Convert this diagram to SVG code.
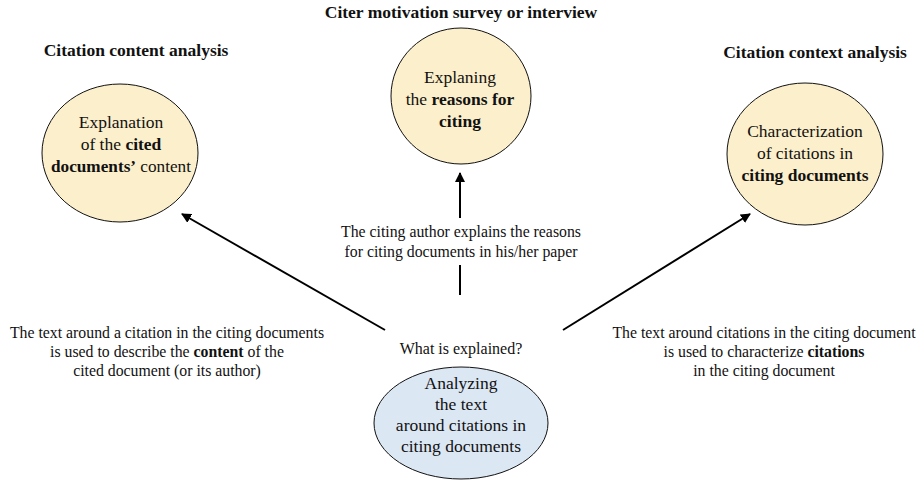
<svg xmlns="http://www.w3.org/2000/svg" width="924" height="482" viewBox="0 0 924 482">
<style>
text{font-family:"Liberation Serif","Times New Roman",serif;fill:#111;text-anchor:middle}
.title{font-size:17.5px;font-weight:bold}
.node{font-size:17.5px}
.lbl{font-size:15.8px}
.q{font-size:16px}
.y{fill:#FCEFCB;stroke:#111;stroke-width:1}
.b{fill:#DCE7F4;stroke:#111;stroke-width:1}
.c{stroke:#000;stroke-width:2;fill:none}
.bd{font-weight:bold}
</style>
<defs>
<marker id="ah" viewBox="0 0 10 10" refX="9" refY="5" markerWidth="5" markerHeight="5" orient="auto" markerUnits="strokeWidth">
<path d="M0,0 L10,5 L0,10 z" fill="#000"/>
</marker>
</defs>
<rect width="924" height="482" fill="#fff"/>
<g id="titles">
<text class="title" x="461" y="18">Citer motivation survey or interview</text>
<text class="title" x="136" y="56">Citation content analysis</text>
<text class="title" x="815" y="58">Citation context analysis</text>
</g>
<g id="connectors">
<line class="c" x1="385" y1="330" x2="182" y2="214" marker-end="url(#ah)"/>
<line class="c" x1="563" y1="330" x2="750" y2="214" marker-end="url(#ah)"/>
<line class="c" x1="460" y1="218" x2="460" y2="173" marker-end="url(#ah)"/>
<line class="c" x1="460" y1="265" x2="460" y2="295"/>
</g>
<g id="node-content">
<ellipse class="y" cx="120" cy="153" rx="78" ry="69"/>
<text class="node" x="121" y="128">Explanation</text>
<text class="node" x="121" y="150">of the <tspan class="bd">cited</tspan></text>
<text class="node" x="121" y="172" textLength="140" lengthAdjust="spacingAndGlyphs"><tspan class="bd">documents’</tspan> content</text>
</g>
<g id="node-reasons">
<ellipse class="y" cx="461" cy="96" rx="70" ry="68"/>
<text class="node" x="460" y="83">Explaning</text>
<text class="node" x="460" y="105">the <tspan class="bd">reasons for</tspan></text>
<text class="node bd" x="460" y="127">citing</text>
</g>
<g id="node-context">
<ellipse class="y" cx="805" cy="154" rx="78" ry="71"/>
<text class="node" x="805" y="137">Characterization</text>
<text class="node" x="805" y="159">of citations in</text>
<text class="node bd" x="805" y="181">citing documents</text>
</g>
<g id="node-analyzing">
<ellipse class="b" cx="461" cy="423" rx="87" ry="56"/>
<text class="node" x="461" y="389">Analyzing</text>
<text class="node" x="461" y="410">the text</text>
<text class="node" x="461" y="431">around citations in</text>
<text class="node" x="461" y="452">citing documents</text>
</g>
<g id="labels">
<text class="lbl" x="461" y="237">The citing author explains the reasons</text>
<text class="lbl" x="461" y="257">for citing documents in his/her paper</text>
<text class="q" x="461" y="354">What is explained?</text>
<text class="lbl" x="167" y="338">The text around a citation in the citing documents</text>
<text class="lbl" x="167" y="357">is used to describe the <tspan class="bd">content</tspan> of the</text>
<text class="lbl" x="167" y="376">cited document (or its author)</text>
<text class="lbl" x="764" y="338">The text around citations in the citing document</text>
<text class="lbl" x="764" y="357">is used to characterize <tspan class="bd">citations</tspan></text>
<text class="lbl" x="764" y="376">in the citing document</text>
</g>
</svg>
